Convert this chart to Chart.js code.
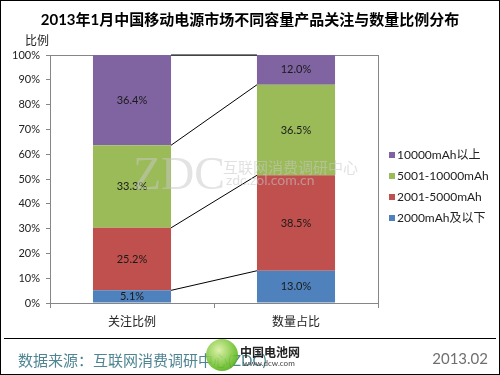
<!DOCTYPE html>
<html>
<head>
<meta charset="utf-8">
<script src="https://cdn.jsdelivr.net/npm/chart.js@4"></script>
<style>
  body { margin: 0; background: #fff; }
  #wrap { position: relative; width: 500px; height: 375px; box-sizing: border-box; border: 1px solid #000; overflow: hidden; font-family: "Lato", "Noto Sans CJK SC", sans-serif; }
  #graph { position: absolute; left: -1px; top: -1px; }
  .t { position: absolute; white-space: nowrap; }
  #title { left: 0; width: 498px; top: 7px; text-align: center; font-size: 15px; font-weight: bold; color: #000; }
  #unit { left: 24px; top: 30px; font-size: 12px; color: #222; }
  #sep { position: absolute; left: 3px; width: 492px; top: 337px; height: 0; border-top: 1px solid #000; }
  #source { left: 17px; top: 348px; font-size: 15px; color: #4f8593; }
  #date { right: 11px; top: 348px; font-size: 15px; color: #6f6f6f; }
  #wm { left: 132px; top: 146px; font-size: 46px; color: rgba(200,200,200,0.5); font-family: "Liberation Serif", serif; }
  #wm2 { left: 222px; top: 155px; font-size: 15px; color: rgba(200,200,200,0.55); }
  #wm3 { left: 225px; top: 170px; font-size: 14px; color: rgba(200,200,200,0.55); }
  #ball { position: absolute; left: 205px; top: 338px; width: 32px; height: 32px; border-radius: 50%; background: radial-gradient(circle at 40% 35%, #d9f0a0, #6cbf2a 60%, #3f8f18); opacity: 0.9; }
  #logo { left: 239px; top: 342px; font-size: 12px; font-weight: bold; color: #222; }
  #logo2 { left: 242px; top: 357px; font-size: 8px; color: #444; }
</style>
</head>
<body>
<div id="wrap">
  <canvas id="graph" width="500" height="375"></canvas>
  <div class="t" id="title">2013年1月中国移动电源市场不同容量产品关注与数量比例分布</div>
  <div class="t" id="unit">比例</div>
  <div class="t" id="wm">ZDC</div>
  <div class="t" id="wm2">互联网消费调研中心</div>
  <div class="t" id="wm3">zdc.zol.com.cn</div>
  <div id="sep"></div>
  <div class="t" id="source">数据来源：互联网消费调研中心(ZDC)</div>
  <div id="ball"></div>
  <div class="t" id="logo">中国电池网</div>
  <div class="t" id="logo2">www.dcw.com</div>
  <div class="t" id="date">2013.02</div>
</div>
<script>
// -------------------------
// DATA
// -------------------------
const categories = ["关注比例", "数量占比"];
const seriesNames = ["2000mAh及以下", "2001-5000mAh", "5001-10000mAh", "10000mAh以上"];
const under2000 = [5.1, 13.0];
const from2001to5000 = [25.2, 38.5];
const from5001to10000 = [33.3, 36.5];
const over10000 = [36.4, 12.0];
const yTicks = [0, 10, 20, 30, 40, 50, 60, 70, 80, 90, 100];

const colors = ["#4f81bd", "#c0504d", "#9bbb59", "#8064a2"];
const FONT = '"Lato", "Noto Sans CJK SC", sans-serif';

// -------------------------
// PLUGINS
// -------------------------
const frame = {
  id: "frame",
  beforeDatasetsDraw(chart) {
    const a = chart.chartArea, c = chart.ctx;
    c.save();
    c.strokeStyle = "#868686";
    c.lineWidth = 1;
    c.strokeRect(a.left + 0.5, a.top + 0.5, a.right - a.left, a.bottom - a.top);
    c.restore();
  }
};

// series lines between the two stacked bars + value labels
const seriesLines = {
  id: "seriesLines",
  afterDatasetsDraw(chart) {
    const c = chart.ctx;
    c.save();
    c.strokeStyle = "#000";
    c.lineWidth = 1;
    chart.data.datasets.forEach((ds, i) => {
      const bars = chart.getDatasetMeta(i).data;
      const b0 = bars[0], b1 = bars[1];
      c.beginPath();
      c.moveTo(b0.x + b0.width / 2, b0.y);
      c.lineTo(b1.x - b1.width / 2, b1.y);
      c.stroke();
    });
    c.font = "11px " + FONT;
    c.fillStyle = "#1a1a1a";
    c.textAlign = "center";
    c.textBaseline = "middle";
    chart.data.datasets.forEach((ds, i) => {
      chart.getDatasetMeta(i).data.forEach((b, j) => {
        c.fillText(ds.data[j].toFixed(1) + "%", b.x, (b.y + b.base) / 2);
      });
    });
    c.restore();
  }
};

const sideLegend = {
  id: "sideLegend",
  afterDraw(chart) {
    const c = chart.ctx;
    c.save();
    c.font = "12px " + FONT;
    c.textBaseline = "middle";
    c.textAlign = "left";
    const n = chart.data.datasets.length;
    for (let k = 0; k < n; k++) {
      const i = n - 1 - k;
      const y = 155 + k * 21;
      c.fillStyle = colors[i];
      c.fillRect(389, y - 3, 6, 6);
      c.fillStyle = "#222";
      c.fillText(chart.data.datasets[i].label, 397, y);
    }
    c.restore();
  }
};

// -------------------------
// INIT CHART
// -------------------------
function initChart() {
  const ctx = document.getElementById("graph").getContext("2d");
  const values = [under2000, from2001to5000, from5001to10000, over10000];

  new Chart(ctx, {
    type: "bar",
    data: {
      labels: categories,
      datasets: seriesNames.map((name, i) => ({
        label: name,
        data: values[i],
        backgroundColor: colors[i],
        borderWidth: 0,
        categoryPercentage: 1,
        barPercentage: 0.476
      }))
    },
    options: {
      responsive: false,
      animation: false,
      layout: { padding: { left: 0, right: 122, top: 55, bottom: 0 } },
      plugins: {
        legend: { display: false },
        title: { display: false },
        tooltip: { enabled: false }
      },
      scales: {
        x: {
          stacked: true,
          afterFit: (s) => { s.height = 72; },
          grid: { offset: true, drawOnChartArea: false, tickLength: 5, color: "#868686" },
          border: { color: "#868686" },
          ticks: { padding: 7, color: "#222", font: { size: 12, family: FONT } }
        },
        y: {
          stacked: true,
          min: 0,
          max: 100,
          afterFit: (s) => { s.width = 50; },
          afterBuildTicks: (s) => { s.ticks = yTicks.map(v => ({ value: v })); },
          grid: { drawOnChartArea: false, tickLength: 4, color: "#868686" },
          border: { color: "#868686" },
          ticks: {
            padding: 6,
            color: "#222",
            font: { size: 11, family: FONT },
            callback: (v) => v + "%"
          }
        }
      }
    },
    plugins: [frame, seriesLines, sideLegend]
  });
}

initChart();
</script>
</body>
</html>
